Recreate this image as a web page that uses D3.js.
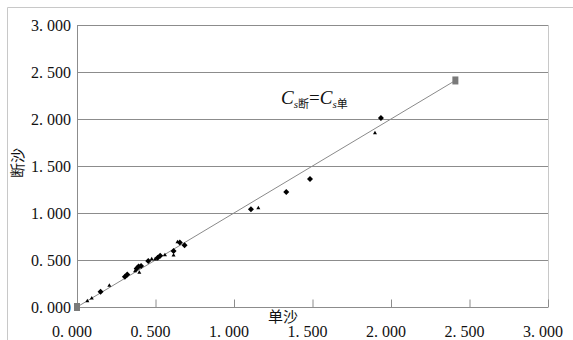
<!DOCTYPE html>
<html>
<head>
<meta charset="utf-8">
<script src="https://cdn.jsdelivr.net/npm/d3@7"></script>
<style>
  body { margin: 0; background: #fff; }
</style>
</head>
<body>
<div id="chart"></div>
<script>
// measured points (单沙 x, 断沙 y)
const diamondPts = [
  [0.150, 0.163], [0.305, 0.322], [0.320, 0.345], [0.380, 0.410], [0.392, 0.430],
  [0.408, 0.436], [0.454, 0.489], [0.514, 0.524], [0.530, 0.545], [0.615, 0.595],
  [0.655, 0.685], [0.685, 0.658], [1.108, 1.039], [1.333, 1.223], [1.484, 1.362],
  [1.936, 2.010]
];
const trianglePts = [
  [0.066, 0.064], [0.094, 0.093], [0.206, 0.227], [0.370, 0.383], [0.397, 0.365],
  [0.476, 0.510], [0.497, 0.507], [0.560, 0.553], [0.615, 0.550], [0.640, 0.690],
  [1.155, 1.052], [1.898, 1.850]
];
const linePts = [[0, 0], [2.41, 2.41]];
const xTicks = [0, 0.5, 1.0, 1.5, 2.0, 2.5, 3.0];
const yTicks = [0, 0.5, 1.0, 1.5, 2.0, 2.5, 3.0];

const width = 573, height = 340;
const margin = { top: 25, right: 25, bottom: 33, left: 77 };
const serif = '"Liberation Serif", "DejaVu Serif", serif';
const cjk = '"Noto Sans CJK SC", sans-serif';

const svg = d3.select('#chart').append('svg')
  .attr('width', width)
  .attr('height', height);

// outer frame
svg.append('path')
  .attr('d', `M7.5,${height} V7.5 H${width}`)
  .attr('fill', 'none')
  .attr('stroke', '#c8c8c8');

const x = d3.scaleLinear().domain([0, 3]).range([margin.left, width - margin.right]);
const y = d3.scaleLinear().domain([0, 3]).range([height - margin.bottom, margin.top]);
const fmt = v => d3.format('.3f')(v).replace('.', '. ');

// right border of plot area
svg.append('line')
  .attr('x1', x(3) + 0.5).attr('x2', x(3) + 0.5)
  .attr('y1', y(3)).attr('y2', y(0))
  .attr('stroke', '#c8c8c8');

// gridlines
svg.append('g').selectAll('line')
  .data(yTicks.filter(d => d > 0))
  .enter().append('line')
  .attr('x1', x(0)).attr('x2', x(3))
  .attr('y1', d => Math.round(y(d)) + 0.5).attr('y2', d => Math.round(y(d)) + 0.5)
  .attr('stroke', '#8c8c8c');

// x axis with inward ticks
const xAxis = svg.append('g')
  .attr('transform', `translate(0,${Math.round(y(0)) + 0.5})`)
  .call(d3.axisTop(x).tickValues(xTicks.filter(d => d > 0)).tickSize(8).tickFormat(''));
xAxis.select('.domain').attr('d', `M${x(0)},0H${x(3)}`).attr('stroke', '#8c8c8c');
xAxis.selectAll('.tick line').attr('stroke', '#8c8c8c');

// y axis line
svg.append('line')
  .attr('x1', x(0) + 0.5).attr('x2', x(0) + 0.5)
  .attr('y1', y(3)).attr('y2', y(0))
  .attr('stroke', '#8c8c8c');

// tick labels
svg.append('g').selectAll('text')
  .data(xTicks)
  .enter().append('text')
  .attr('x', d => x(d) - 5)
  .attr('y', 337)
  .attr('text-anchor', 'middle')
  .style('font-family', serif)
  .style('font-size', '16px')
  .style('fill', '#111')
  .text(fmt);

svg.append('g').selectAll('text')
  .data(yTicks)
  .enter().append('text')
  .attr('x', 71)
  .attr('y', d => y(d) + 6)
  .attr('text-anchor', 'end')
  .style('font-family', serif)
  .style('font-size', '16px')
  .style('fill', '#111')
  .text(fmt);

// axis titles
svg.append('text')
  .attr('x', 283).attr('y', 322)
  .attr('text-anchor', 'middle')
  .style('font-family', cjk)
  .style('font-size', '15px')
  .style('fill', '#111')
  .text('单沙');

svg.append('text')
  .attr('transform', 'translate(23,163) rotate(-90)')
  .attr('text-anchor', 'middle')
  .style('font-family', cjk)
  .style('font-size', '15px')
  .style('fill', '#111')
  .text('断沙');

// 1:1 line with square end markers
svg.append('path')
  .datum(linePts)
  .attr('d', d3.line().x(d => x(d[0])).y(d => y(d[1])))
  .attr('fill', 'none')
  .attr('stroke', '#8a8a8a')
  .attr('stroke-width', 1);

svg.append('g').selectAll('rect')
  .data(linePts)
  .enter().append('rect')
  .attr('x', d => x(d[0]) - 3)
  .attr('y', d => y(d[1]) - 4)
  .attr('width', 6).attr('height', 8)
  .attr('fill', '#7a7a7a');

// diamonds (square turned 45deg)
svg.append('g').selectAll('path')
  .data(diamondPts)
  .enter().append('path')
  .attr('transform', d => `translate(${x(d[0])},${y(d[1])}) rotate(45)`)
  .attr('d', d3.symbol(d3.symbolSquare, 18))
  .attr('fill', '#000');

// small triangles
svg.append('g').selectAll('path')
  .data(trianglePts)
  .enter().append('path')
  .attr('transform', d => `translate(${x(d[0])},${y(d[1])})`)
  .attr('d', d3.symbol(d3.symbolTriangle, 7))
  .attr('fill', '#000');

// annotation
const note = svg.append('text')
  .attr('x', 281).attr('y', 104)
  .style('font-family', serif)
  .style('font-size', '19px')
  .style('fill', '#111');
note.append('tspan').style('font-style', 'italic').text('C');
note.append('tspan').attr('dy', 4).style('font-size', '11px').style('font-style', 'italic').text('s');
note.append('tspan').style('font-size', '11px').style('font-family', cjk).text('断');
note.append('tspan').attr('dy', -4).text('=');
note.append('tspan').style('font-style', 'italic').text('C');
note.append('tspan').attr('dy', 4).style('font-size', '11px').style('font-style', 'italic').text('s');
note.append('tspan').style('font-size', '11px').style('font-family', cjk).text('单');
</script>
</body>
</html>
